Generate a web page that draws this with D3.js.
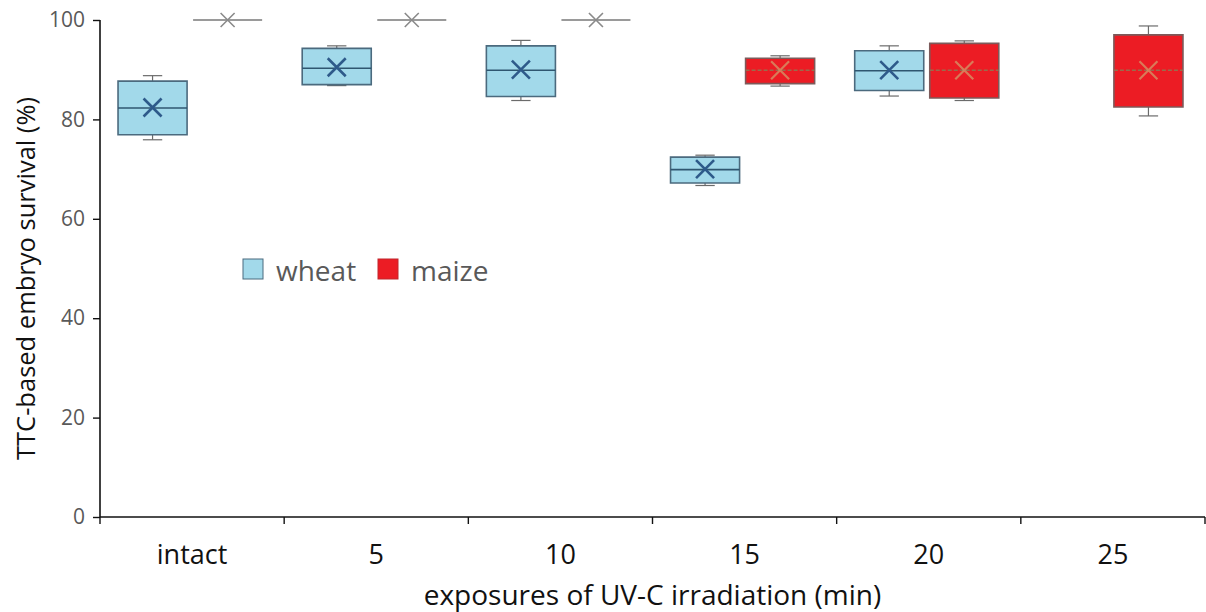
<!DOCTYPE html>
<html>
<head>
<meta charset="utf-8">
<script src="https://cdn.jsdelivr.net/npm/d3@7"></script>
<style>
  html, body { margin: 0; padding: 0; background: #fff; }
  svg { display: block; font-family: "Open Sans", sans-serif; }
</style>
</head>
<body>
<svg id="chart" width="1206" height="612"></svg>
<script>
// ---- data ----
const categories = ["intact", "5", "10", "15", "20", "25"];
const series = ["wheat", "maize"];
const yTicks = [0, 20, 40, 60, 80, 100];

const wheatMin  = [75.9, 86.8, 83.8, 66.7, 84.7, null];
const wheatQ1   = [76.9, 87.0, 84.6, 67.2, 85.8, null];
const wheatMed  = [82.3, 90.3, 89.9, 69.9, 89.8, null];
const wheatQ3   = [87.7, 94.3, 94.8, 72.4, 93.8, null];
const wheatMax  = [88.8, 94.8, 95.9, 72.8, 94.8, null];
const wheatMean = [82.4, 90.5, 90.0, 70.0, 89.9, null];

const maizeMin  = [100, 100, 100, 86.7, 83.8, 80.7];
const maizeQ1   = [100, 100, 100, 87.2, 84.3, 82.5];
const maizeMed  = [100, 100, 100, 89.9, 89.9, 89.9];
const maizeQ3   = [100, 100, 100, 92.3, 95.3, 97.0];
const maizeMax  = [100, 100, 100, 92.8, 95.8, 98.8];
const maizeMean = [100, 100, 100, 89.9, 89.9, 89.9];

const xTitle = "exposures of UV-C irradiation (min)";
const yTitle = "TTC-based embryo survival (%)";

// ---- build records ----
const stats = {
  wheat: {min: wheatMin, q1: wheatQ1, med: wheatMed, q3: wheatQ3, max: wheatMax, mean: wheatMean},
  maize: {min: maizeMin, q1: maizeQ1, med: maizeMed, q3: maizeQ3, max: maizeMax, mean: maizeMean}
};
const records = [];
series.forEach(s => categories.forEach((c, i) => {
  const st = stats[s];
  if (st.med[i] == null) return;
  records.push({series: s, cat: c, min: st.min[i], q1: st.q1[i], med: st.med[i],
                q3: st.q3[i], max: st.max[i], mean: st.mean[i]});
}));

const style = {
  wheat: {fill: "#a2d9ea", stroke: "#4b6a7e", median: "#2f5670", mean: "#2e5a8a", meanW: 2.6, dash: null},
  maize: {fill: "#ec1c24", stroke: "#7d5a5a", median: "#9c6a4c", mean: "#d39a6a", meanW: 2.2, dash: "4,2"}
};

// ---- scales ----
const svg = d3.select("#chart");
const mLeft = 100, mRight = 1205, mTop = 20, mBottom = 517;
const x = d3.scaleBand().domain(categories).range([mLeft, mRight]).paddingInner(0).paddingOuter(0);
const xs = d3.scaleBand().domain(series).range([-2, x.bandwidth() - 2]).paddingInner(0.08).paddingOuter(0.267);
const y = d3.scaleLinear().domain([0, 100]).range([mBottom, mTop]);

// ---- boxes ----
const g = svg.append("g");
const bw = xs.bandwidth();
const capW = bw * 0.28;
records.forEach(d => {
  const st = style[d.series];
  const x0 = x(d.cat) + xs(d.series);
  const cx = x0 + bw / 2;
  const collapsed = d.q1 === d.q3;
  if (!collapsed) {
    g.append("line").attr("x1", cx).attr("x2", cx).attr("y1", y(d.max)).attr("y2", y(d.q3))
      .attr("stroke", "#6b6b6b").attr("stroke-width", 1.2);
    g.append("line").attr("x1", cx).attr("x2", cx).attr("y1", y(d.q1)).attr("y2", y(d.min))
      .attr("stroke", "#6b6b6b").attr("stroke-width", 1.2);
    [d.max, d.min].forEach(v => g.append("line").attr("x1", cx - capW / 2).attr("x2", cx + capW / 2)
      .attr("y1", y(v)).attr("y2", y(v)).attr("stroke", "#6b6b6b").attr("stroke-width", 1.2));
  }
  const yt = y(d.q3), yb = y(d.q1);
  g.append("path")
    .attr("d", `M${x0},${yt}H${x0 + bw}V${yb}H${x0}Z`)
    .attr("fill", st.fill)
    .attr("stroke", collapsed ? "#7a7a7a" : st.stroke)
    .attr("stroke-width", 1.6);
  if (!collapsed) {
    g.append("line").attr("x1", x0).attr("x2", x0 + bw).attr("y1", y(d.med)).attr("y2", y(d.med))
      .attr("stroke", st.median).attr("stroke-width", 1.6)
      .attr("stroke-dasharray", st.dash);
  }
  const r = collapsed ? 7 : 9;
  const my = y(d.mean);
  g.append("path")
    .attr("d", `M${cx - r},${my - r}L${cx + r},${my + r}M${cx - r},${my + r}L${cx + r},${my - r}`)
    .attr("stroke", collapsed ? "#8a8a8a" : st.mean)
    .attr("stroke-width", collapsed ? 1.6 : st.meanW)
    .attr("stroke-opacity", d.series === "maize" && !collapsed ? 0.75 : 1)
    .attr("fill", "none");
});

// ---- y axis ----
const yAxis = svg.append("g").attr("transform", `translate(${mLeft},0)`)
  .call(d3.axisLeft(y).tickValues(yTicks).tickSize(7).tickPadding(8));
yAxis.select(".domain").attr("stroke", "#111").attr("stroke-width", 1.6)
  .attr("d", `M0,${mTop}V${mBottom}`);
yAxis.selectAll(".tick line").attr("stroke", "#111").attr("stroke-width", 1.4);
yAxis.selectAll(".tick text").attr("font-size", 21).attr("fill", "#595959")
  .attr("font-family", "Open Sans, sans-serif");

// ---- x axis ----
const xAxis = svg.append("g").attr("transform", `translate(0,${mBottom})`)
  .call(d3.axisBottom(x).tickSize(0).tickPadding(28));
xAxis.select(".domain").attr("stroke", "#111").attr("stroke-width", 1.6)
  .attr("d", `M${mLeft},0H${mRight}`);
xAxis.selectAll(".tick text").attr("font-size", 27).attr("fill", "#111")
  .attr("font-family", "Open Sans, sans-serif");
const bounds = categories.map(c => x(c)).concat([x.range()[1]]);
xAxis.selectAll("line.bnd").data(bounds).join("line").attr("class", "bnd")
  .attr("x1", d => d).attr("x2", d => d).attr("y1", 0).attr("y2", 7)
  .attr("stroke", "#111").attr("stroke-width", 1.4);

// ---- titles ----
svg.append("text").attr("x", (mLeft + mRight) / 2).attr("y", 605)
  .attr("text-anchor", "middle").attr("font-size", 28).attr("fill", "#111").text(xTitle);
svg.append("text").attr("transform", `translate(35,${(mTop + mBottom) / 2 + 10}) rotate(-90)`)
  .attr("text-anchor", "middle").attr("font-size", 25.5).attr("fill", "#111").text(yTitle);

// ---- legend ----
const legend = svg.append("g");
const legendX = [243, 378];
series.forEach((s, i) => {
  legend.append("rect").attr("x", legendX[i]).attr("y", 259).attr("width", 20).attr("height", 20)
    .attr("fill", style[s].fill).attr("stroke", s === "wheat" ? style[s].stroke : "#c0262c").attr("stroke-width", 1);
  legend.append("text").attr("x", legendX[i] + 33).attr("y", 281)
    .attr("font-size", 28).attr("fill", "#595959").text(s);
});
</script>
</body>
</html>
